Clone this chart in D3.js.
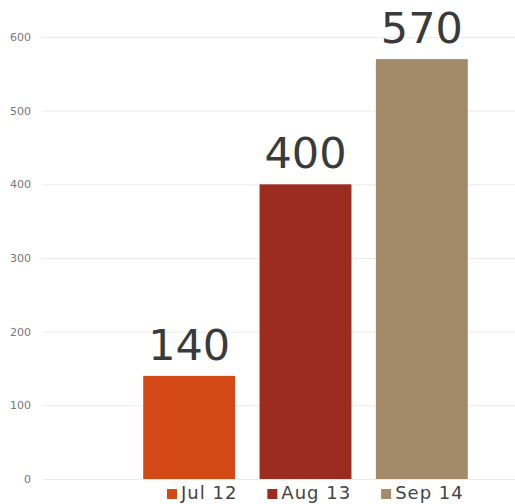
<!DOCTYPE html>
<html><head><meta charset="utf-8">
<script src="https://cdn.jsdelivr.net/npm/d3@7"></script>
<style>body{margin:0;background:#fff}svg{display:block}</style>
</head><body>
<script>
const categories = ["Jul 12", "Aug 13", "Sep 14"];
const values = [140, 400, 570];
const colors = ["#d34a17", "#9b2c1f", "#a38b69"];
const yTicks = [0, 100, 200, 300, 400, 500, 600];

const W = 515, H = 504;
const svg = d3.select("body").append("svg").attr("width", W).attr("height", H);
const y = d3.scaleLinear().domain([0, 600]).range([479, 37]);
const x = d3.scaleBand().domain(categories).range([131, 480]).paddingInner(0.21).paddingOuter(0.105);

const yAxis = svg.append("g").attr("transform", "translate(42,0)")
  .call(d3.axisLeft(y).tickValues(yTicks).tickSize(-(W - 42)).tickPadding(11));
yAxis.select(".domain").remove();
yAxis.selectAll(".tick line").attr("stroke", "#ebebeb");
yAxis.selectAll(".tick text").attr("fill", "#777").style("font-family", "DejaVu Sans, Verdana, sans-serif").style("font-size", "11px");

const data = categories.map((c, i) => ({c, v: values[i], col: colors[i]}));
svg.selectAll("rect.bar").data(data).join("rect").attr("class", "bar")
  .attr("x", d => x(d.c)).attr("width", x.bandwidth())
  .attr("y", d => y(d.v)).attr("height", d => y(0) - y(d.v))
  .attr("fill", d => d.col);

svg.selectAll("text.val").data(data).join("text").attr("class", "val")
  .attr("x", d => x(d.c) + x.bandwidth() / 2).attr("y", d => y(d.v) - 16)
  .attr("text-anchor", "middle").attr("fill", "#3a3a3a")
  .style("font-family", "DejaVu Sans, Verdana, sans-serif").style("font-size", "43px")
  .text(d => d.v);

const legend = svg.append("g");
let lx = 167;
data.forEach(d => {
  const g = legend.append("g").attr("transform", `translate(${lx},0)`);
  g.append("rect").attr("x", 0).attr("y", 489).attr("width", 10).attr("height", 10).attr("fill", d.col);
  const t = g.append("text").attr("x", 14).attr("y", 499).attr("fill", "#444")
    .style("font-family", "DejaVu Sans, Verdana, sans-serif").style("font-size", "18px")
    .style("letter-spacing", "1px").text(d.c);
  lx += 14 + t.node().getComputedTextLength() + 30;
});
</script>
</body></html>
